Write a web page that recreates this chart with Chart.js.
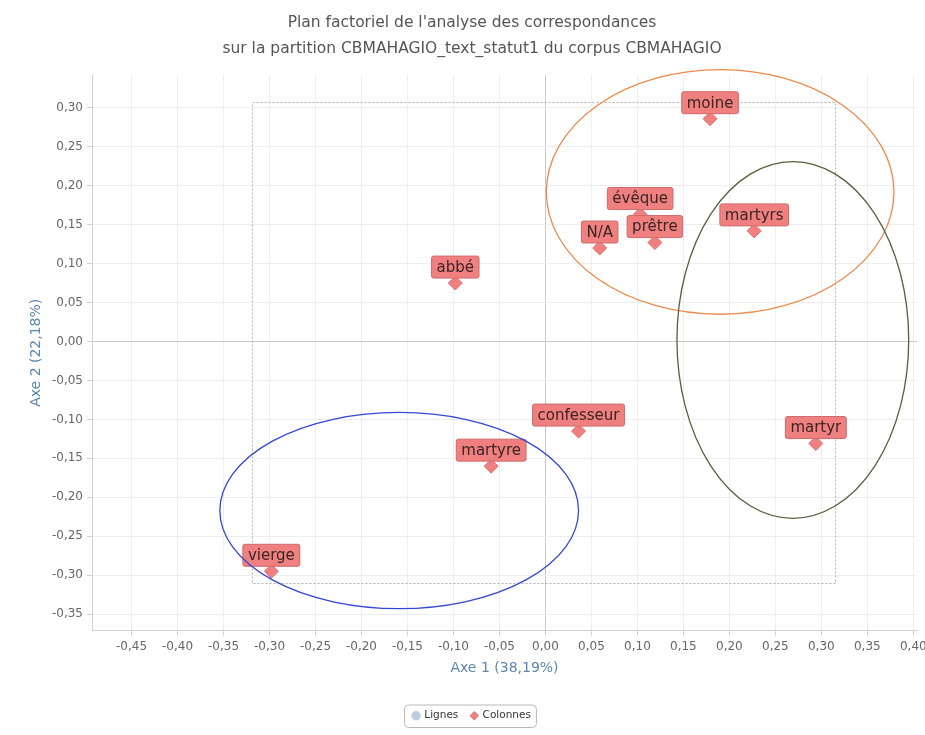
<!DOCTYPE html>
<html>
<head>
<meta charset="utf-8">
<script src="https://cdn.jsdelivr.net/npm/chart.js@4.4.0/dist/chart.umd.min.js"></script>
<style>
  html, body { margin: 0; padding: 0; background: #fff; }
  #wrap { width: 925px; height: 735px; }
</style>
</head>
<body>
<div id="wrap"><canvas id="chartAfc"></canvas></div>
<script>
/* global Chart */
// modalités (colonnes) et leurs coordonnées sur les axes 1 et 2
const colLabels = ['moine', 'évêque', 'prêtre', 'N/A', 'martyrs', 'abbé', 'confesseur', 'martyre', 'vierge', 'martyr'];
const axe1 = [0.179, 0.103, 0.119, 0.059, 0.227, -0.098, 0.036, -0.059, -0.298, 0.294];
const axe2 = [0.286, 0.163, 0.127, 0.120, 0.142, 0.075, -0.115, -0.160, -0.295, -0.131];

// groupes entourés à la main (centre, rayons, couleur)
const groupCenters = [[0.190, 0.192], [0.269, 0.002], [-0.159, -0.217]];
const groupRadii = [[0.189, 0.157], [0.126, 0.229], [0.195, 0.126]];
const groupColors = ['#ee8a4a', '#56603f', '#3447d6'];

// cadre pointillé
const frameX = [-0.319, 0.315];
const frameY = [-0.310, 0.307];

const fmt = v => {
    const r = Math.round(v * 100) / 100;
    return (r === 0 ? 0 : r).toFixed(2).replace('.', ',');
};

const decor = {
    id: 'decor',
    beforeDatasetsDraw(chart) {
        const { ctx, scales: { x, y } } = chart;
        ctx.save();
        ctx.strokeStyle = '#b0b0b0';
        ctx.lineWidth = 1;
        ctx.setLineDash([2, 2]);
        const x0 = x.getPixelForValue(frameX[0]), x1 = x.getPixelForValue(frameX[1]);
        const y0 = y.getPixelForValue(frameY[1]), y1 = y.getPixelForValue(frameY[0]);
        ctx.strokeRect(Math.round(x0) + 0.5, Math.round(y0) + 0.5, Math.round(x1 - x0), Math.round(y1 - y0));
        ctx.restore();
    },
    afterDatasetsDraw(chart) {
        const { ctx } = chart;
        const meta = chart.getDatasetMeta(1);
        ctx.save();
        ctx.font = '15px "DejaVu Sans"';
        ctx.textAlign = 'center';
        ctx.textBaseline = 'middle';
        meta.data.forEach((pt, i) => {
            const txt = colLabels[i];
            const w = ctx.measureText(txt).width + 10;
            const h = 22;
            const bx = pt.x - w / 2, by = pt.y - 5 - h;
            ctx.beginPath();
            ctx.roundRect(bx, by, w, h, 2);
            ctx.fillStyle = '#f08080';
            ctx.fill();
            ctx.strokeStyle = '#cf6a6a';
            ctx.lineWidth = 1;
            ctx.stroke();
            ctx.fillStyle = '#3a2424';
            ctx.fillText(txt, pt.x, by + h / 2 + 1);
        });
        ctx.restore();
    },
    afterDraw(chart) {
        const { ctx, scales: { x, y } } = chart;
        ctx.save();
        ctx.lineWidth = 1.3;
        groupCenters.forEach((c, i) => {
            const cx = x.getPixelForValue(c[0]), cy = y.getPixelForValue(c[1]);
            const rx = Math.abs(x.getPixelForValue(c[0] + groupRadii[i][0]) - cx);
            const ry = Math.abs(y.getPixelForValue(c[1] + groupRadii[i][1]) - cy);
            ctx.beginPath();
            ctx.ellipse(cx, cy, rx, ry, 0, 0, Math.PI * 2);
            ctx.strokeStyle = groupColors[i];
            ctx.stroke();
        });
        // cadre de la légende
        const boxes = chart.legend.legendHitBoxes;
        if (boxes && boxes.length) {
            const l = Math.min(...boxes.map(b => b.left)) - 9;
            const r = Math.max(...boxes.map(b => b.left + b.width)) + 5;
            const t = Math.min(...boxes.map(b => b.top)) - 6;
            const b = Math.max(...boxes.map(b => b.top + b.height)) + 6;
            ctx.beginPath();
            ctx.roundRect(l + 0.5, t + 0.5, r - l, b - t, 4);
            ctx.strokeStyle = '#b8b8b8';
            ctx.lineWidth = 1;
            ctx.stroke();
        }
        ctx.restore();
    }
};

new Chart(document.getElementById('chartAfc'), {
    type: 'scatter',
    data: {
        datasets: [{
            label: 'Lignes',
            data: [],
            pointStyle: 'circle',
            backgroundColor: '#bccbe0',
            borderColor: '#bccbe0'
        }, {
            label: 'Colonnes',
            data: axe1.map((v, i) => ({ x: v, y: axe2[i] })),
            pointStyle: 'rectRot',
            pointRadius: 7,
            pointHoverRadius: 7,
            backgroundColor: '#f08080',
            borderColor: '#e07070',
            borderWidth: 1
        }]
    },
    options: {
        responsive: true,
        maintainAspectRatio: false,
        animation: false,
        layout: { padding: { left: 24, right: 5, top: 0, bottom: 4 } },
        plugins: {
            title: {
                display: true,
                text: ["Plan factoriel de l'analyse des correspondances",
                    'sur la partition CBMAHAGIO_text_statut1 du corpus CBMAHAGIO'],
                color: '#555',
                font: { family: 'DejaVu Sans', size: 15.5, weight: 'normal', lineHeight: 1.68 },
                padding: { top: 10, bottom: 13 }
            },
            legend: {
                position: 'bottom',
                labels: {
                    color: '#333',
                    font: { family: 'DejaVu Sans', size: 10.5 },
                    usePointStyle: true,
                    boxWidth: 6,
                    boxHeight: 6,
                    padding: 13
                }
            },
            tooltip: { enabled: false }
        },
        scales: {
            x: {
                type: 'linear',
                min: -0.493,
                max: 0.404,
                afterFit(s) { s.height = 67; s.paddingLeft = 0; s.paddingRight = 0; },
                ticks: {
                    stepSize: 0.05,
                    includeBounds: false,
                    maxRotation: 0,
                    color: '#666',
                    font: { family: 'DejaVu Sans', size: 12 },
                    padding: 4,
                    callback: v => fmt(v)
                },
                grid: {
                    color: c => (Math.abs(c.tick.value) < 1e-9 ? '#c8c8c8' : '#eeeeee'),
                    tickColor: '#d0d0d0',
                    tickLength: 5
                },
                border: { color: '#d0d0d0' },
                title: {
                    display: true,
                    text: 'Axe 1 (38,19%)',
                    color: '#5b86ad',
                    font: { family: 'DejaVu Sans', size: 14 },
                    padding: { top: 0, bottom: 21 }
                }
            },
            y: {
                type: 'linear',
                min: -0.371,
                max: 0.342,
                afterFit(s) { s.width = 68; },
                ticks: {
                    stepSize: 0.05,
                    includeBounds: false,
                    color: '#666',
                    font: { family: 'DejaVu Sans', size: 12 },
                    padding: 4,
                    callback: v => fmt(v)
                },
                grid: {
                    color: c => (Math.abs(c.tick.value) < 1e-9 ? '#c8c8c8' : '#eeeeee'),
                    tickColor: '#d0d0d0',
                    tickLength: 5
                },
                border: { color: '#d0d0d0' },
                title: {
                    display: true,
                    text: 'Axe 2 (22,18%)',
                    color: '#5b86ad',
                    font: { family: 'DejaVu Sans', size: 14 },
                    padding: { top: 4, bottom: 4 }
                }
            }
        }
    },
    plugins: [decor]
});
</script>
</body>
</html>
